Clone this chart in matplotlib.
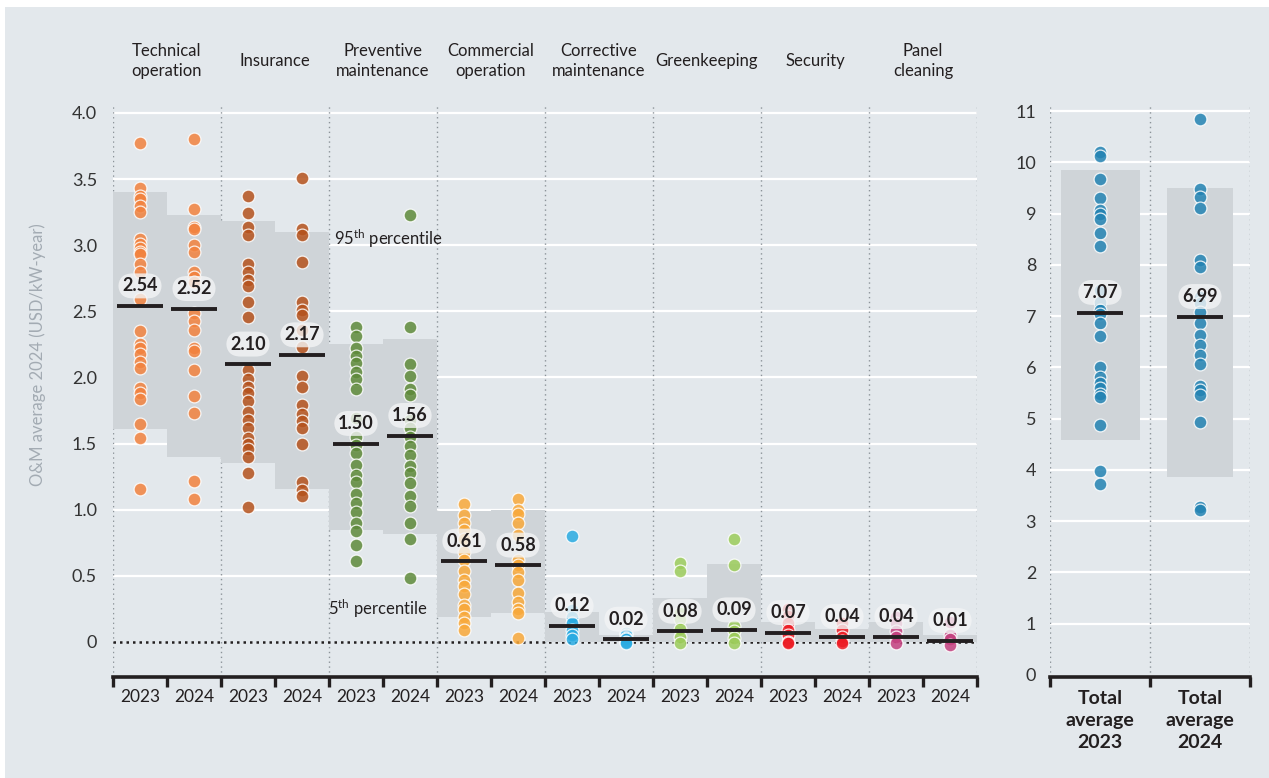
import matplotlib.pyplot as plt
from matplotlib.patches import Rectangle

plt.rcParams['font.family'] = ['Lato', 'DejaVu Sans']
plt.rcParams['mathtext.default'] = 'regular'

categories = ['Technical\noperation', 'Insurance', 'Preventive\nmaintenance', 'Commercial\noperation',
              'Corrective\nmaintenance', 'Greenkeeping', 'Security', 'Panel\ncleaning']
years = ['2023', '2024']
colors = ['#f2823e', '#b5521c', '#5e8a3a', '#f9a93a', '#29abe2', '#9ccc5a', '#ed1c24', '#c4407f']

# medians, 5th and 95th percentile per column (category x year)
medians = [2.54, 2.52, 2.10, 2.17, 1.50, 1.56, 0.61, 0.58, 0.12, 0.02, 0.08, 0.09, 0.07, 0.04, 0.04, 0.01]
p95 = [3.40, 3.23, 3.18, 3.10, 2.25, 2.29, 0.99, 1.00, 0.23, 0.05, 0.33, 0.59, 0.15, 0.10, 0.15, 0.05]
p5 = [1.61, 1.40, 1.35, 1.16, 0.85, 0.82, 0.19, 0.22, 0.0, 0.0, 0.0, 0.0, 0.0, 0.0, 0.0, 0.0]

tech_2023 = [3.77, 3.43, 3.37, 3.35, 3.30, 3.25, 3.05, 3.01, 2.98, 2.95, 2.93, 2.86, 2.80, 2.59, 2.35, 2.25,
             2.22, 2.18, 2.12, 2.07, 1.92, 1.88, 1.84, 1.65, 1.54, 1.16]
tech_2024 = [3.80, 3.27, 3.14, 3.12, 3.00, 2.95, 2.80, 2.76, 2.72, 2.49, 2.43, 2.36, 2.22, 2.20, 2.06, 1.86,
             1.73, 1.22, 1.08]
ins_2023 = [3.37, 3.24, 3.14, 3.08, 2.86, 2.80, 2.74, 2.69, 2.57, 2.46, 2.06, 1.99, 1.93, 1.88, 1.82, 1.74,
            1.68, 1.62, 1.54, 1.50, 1.46, 1.40, 1.28, 1.02]
ins_2024 = [3.51, 3.12, 3.08, 2.87, 2.57, 2.51, 2.47, 2.36, 2.23, 2.01, 1.93, 1.79, 1.72, 1.67, 1.62, 1.50,
            1.21, 1.15, 1.10]
prev_2023 = [2.38, 2.31, 2.22, 2.16, 2.11, 2.04, 1.99, 1.91, 1.69, 1.55, 1.49, 1.43, 1.34, 1.26, 1.21, 1.12,
             1.05, 0.98, 0.90, 0.84, 0.73, 0.61]
prev_2024 = [3.23, 2.38, 2.10, 2.01, 1.91, 1.87, 1.68, 1.62, 1.55, 1.48, 1.41, 1.33, 1.28, 1.20, 1.10, 1.03,
             0.90, 0.78, 0.48]
comm_2023 = [1.04, 0.96, 0.90, 0.85, 0.78, 0.68, 0.62, 0.54, 0.47, 0.42, 0.36, 0.28, 0.25, 0.19, 0.14, 0.09]
comm_2024 = [1.08, 1.00, 0.97, 0.90, 0.81, 0.62, 0.58, 0.53, 0.47, 0.37, 0.30, 0.25, 0.22, 0.03]
corr_2023 = [0.80, 0.24, 0.19, 0.14, 0.09, 0.05, 0.02]
corr_2024 = [0.07, 0.05, 0.03, 0.02, 0.0, -0.01]
green_2023 = [0.60, 0.54, 0.22, 0.17, 0.10, 0.04, -0.01]
green_2024 = [0.78, 0.58, 0.12, 0.08, 0.03, -0.01]
sec_2023 = [0.25, 0.20, 0.14, 0.09, 0.05, 0.0, -0.01]
sec_2024 = [0.14, 0.09, 0.04, 0.01, -0.01]
panel_2023 = [0.19, 0.14, 0.08, 0.04, -0.01]
panel_2024 = [0.15, 0.05, 0.02, -0.02]

points = [tech_2023, tech_2024, ins_2023, ins_2024, prev_2023, prev_2024, comm_2023, comm_2024,
          corr_2023, corr_2024, green_2023, green_2024, sec_2023, sec_2024, panel_2023, panel_2024]

total_labels = ['Total\naverage\n2023', 'Total\naverage\n2024']
total_medians = [7.07, 6.99]
total_p95 = [9.85, 9.50]
total_p5 = [4.58, 3.86]
total_2023 = [10.21, 10.12, 9.67, 9.31, 9.07, 9.00, 8.89, 8.62, 8.37, 7.52, 7.28, 7.13, 7.05, 6.86, 6.61,
              6.01, 5.82, 5.70, 5.60, 5.49, 5.43, 4.88, 3.98, 3.72]
total_2024 = [10.84, 9.49, 9.33, 9.12, 8.09, 7.95, 7.38, 7.25, 7.09, 6.87, 6.64, 6.44, 6.25, 6.06, 5.64,
              5.56, 5.46, 4.94, 3.28, 3.22]
total_points = [total_2023, total_2024]
total_color = '#2383b3'

BG = '#e3e8ec'
BOX = '#cfd4d8'
TXT = '#231f20'

fig = plt.figure(figsize=(12.69, 7.78), dpi=100, facecolor='white')
fig.patches.append(Rectangle((5 / 1269, 0), 1, 771 / 778, transform=fig.transFigure,
                             facecolor=BG, edgecolor='none', zorder=-10))

ax = fig.add_axes([113 / 1269, 101 / 778, 864 / 1269, 572 / 778])
ax2 = fig.add_axes([1050 / 1269, 101 / 778, 200 / 1269, 572 / 778])


def style_axis(a, ylim, yticks, ylabels, ncols, dotted_step, pad):
    a.set_facecolor('none')
    a.set_xlim(0, ncols)
    a.set_ylim(*ylim)
    for s in ['top', 'left', 'right']:
        a.spines[s].set_visible(False)
    a.spines['bottom'].set_linewidth(2.6)
    a.spines['bottom'].set_color(TXT)
    a.set_yticks(yticks)
    a.set_yticklabels(ylabels, fontsize=13, color='#333333')
    a.tick_params(axis='y', length=0, pad=pad)
    a.set_xticks(range(0, ncols + 1))
    a.set_xticklabels([])
    a.tick_params(axis='x', which='major', length=7, width=2.4, color=TXT, direction='out')
    for t in yticks:
        if t != 0:
            a.axhline(t, color='white', lw=1.6, zorder=1)
    for xv in range(0, ncols + 1, dotted_step):
        a.axvline(xv, color='#8c9399', lw=1, ls=(0, (1, 2.5)), zorder=1)


def draw_column(a, x, vals, lo, hi, med, color, width, box_w):
    a.add_patch(Rectangle((x - box_w / 2, lo), box_w, hi - lo, facecolor=BOX,
                          edgecolor='none', zorder=2))
    a.scatter([x] * len(vals), vals, s=85, color=color, alpha=0.85, edgecolors='white',
              linewidths=0.9, zorder=3)
    a.plot([x - width / 2, x + width / 2], [med, med], color=TXT, lw=2.8, solid_capstyle='butt', zorder=4)
    a.annotate(f'{med:.2f}', (x, med), xytext=(0, 14.5), textcoords='offset points',
               ha='center', va='center', fontsize=13, fontweight='bold', color=TXT, zorder=5,
               bbox=dict(boxstyle='round,pad=0.22,rounding_size=0.8', facecolor='#f3f4f5',
                         edgecolor='none', alpha=0.8))


# left panel
style_axis(ax, (-0.265, 4.06), [0, 0.5, 1.0, 1.5, 2.0, 2.5, 3.0, 3.5, 4.0],
           ['0', '0.5', '1.0', '1.5', '2.0', '2.5', '3.0', '3.5', '4.0'], 16, 2, 11.5)
ax.axhline(0, color=TXT, lw=1.8, ls=(0, (1, 1.6)), zorder=1.5)
for i in range(16):
    draw_column(ax, i + 0.5, points[i], p5[i], p95[i], medians[i], colors[i // 2], 0.85, 1.0)
    ax.text(i + 0.5, -0.42, years[i % 2], ha='center', va='center', fontsize=12.5, color=TXT)
for k, cat in enumerate(categories):
    ax.text(2 * k + 1, 1.077, cat, transform=ax.get_xaxis_transform(), ha='center', va='center',
            fontsize=12, color=TXT, linespacing=1.3)

ax.text(4.09, 3.05, r'95$^{th}$ percentile', ha='left', va='center', fontsize=12, color=TXT, zorder=6)
ax.text(3.98, 0.25, r'5$^{th}$ percentile', ha='left', va='center', fontsize=12, color=TXT, zorder=6)

fig.text(38 / 1269, (778 - 355) / 778, 'O&M average 2024 (USD/kW-year)', rotation=90, ha='center',
         va='center', fontsize=12, color='#a3abb3')

# right panel
style_axis(ax2, (-0.04, 11.12), list(range(0, 12)), [str(v) for v in range(0, 12)], 2, 1, 10)
box_widths = [0.79, 0.66]
for i in range(2):
    draw_column(ax2, i + 0.5, total_points[i], total_p5[i], total_p95[i], total_medians[i],
                total_color, 0.46, box_widths[i])
    ax2.text(i + 0.5, -0.022, total_labels[i], transform=ax2.get_xaxis_transform(), ha='center',
             va='top', fontsize=14, fontweight='bold', color=TXT, linespacing=1.36)

fig.savefig('out.png', dpi=100, facecolor=fig.get_facecolor())
